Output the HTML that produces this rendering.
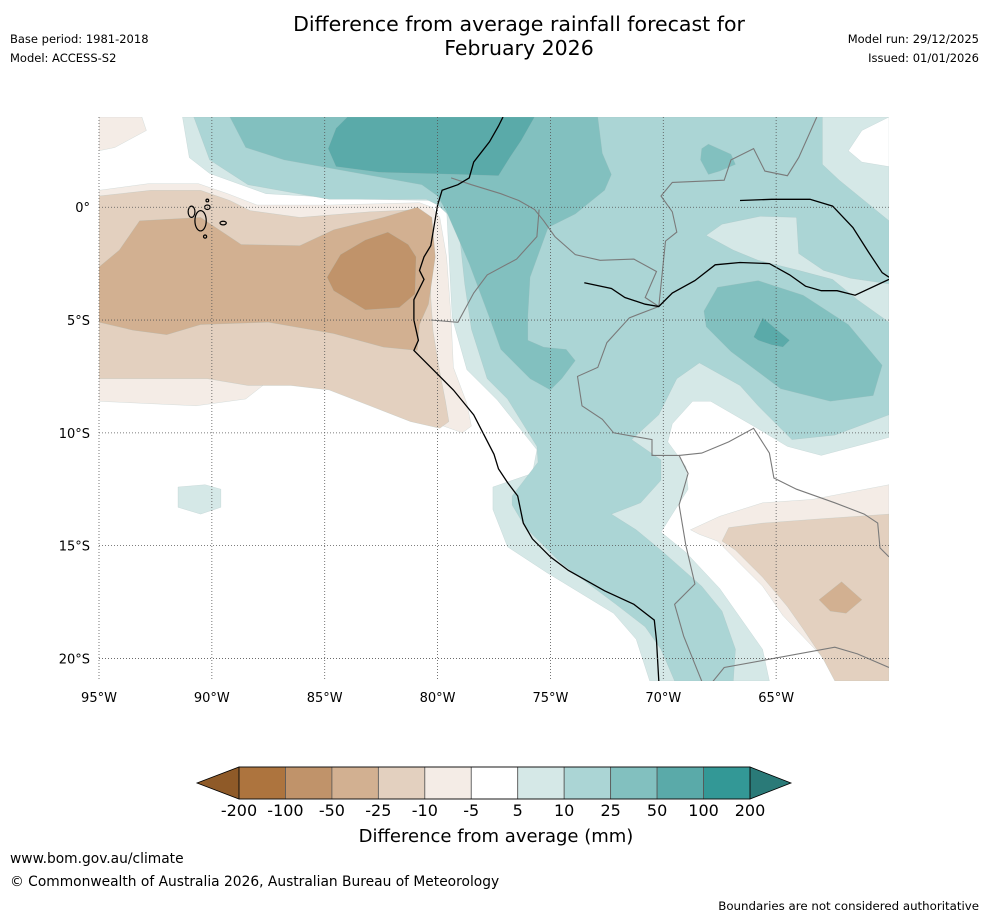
<!DOCTYPE html>
<html><head><meta charset="utf-8"><style>
body{margin:0;background:#fff;font-family:"DejaVu Sans","Liberation Sans",sans-serif;}
#wrap{position:relative;width:988px;height:919px;overflow:hidden;background:#fff}
.t{position:absolute;white-space:nowrap;color:#000}
</style></head><body>
<div id="wrap">
<div class="t" style="left:0;width:1038px;top:12px;text-align:center;font-size:20.5px;line-height:24px">Difference from average rainfall forecast for<br>February 2026</div>
<div class="t" style="left:10px;top:32px;font-size:11.5px">Base period: 1981-2018</div>
<div class="t" style="left:10px;top:51px;font-size:11.5px">Model: ACCESS-S2</div>
<div class="t" style="right:9px;top:32px;font-size:11.5px">Model run: 29/12/2025</div>
<div class="t" style="right:9px;top:51px;font-size:11.5px">Issued: 01/01/2026</div>
<svg id="map" width="988" height="919" style="position:absolute;left:0;top:0"></svg>
<div class="t" style="left:0;width:988px;text-align:center;top:826px;font-size:18px;padding-left:2px">Difference from average (mm)</div>
<div class="t" style="left:10px;top:851px;font-size:13.8px">www.bom.gov.au/climate</div>
<div class="t" style="left:10px;top:874px;font-size:13.8px">© Commonwealth of Australia 2026, Australian Bureau of Meteorology</div>
<div class="t" style="right:9px;top:899px;font-size:11.8px">Boundaries are not considered authoritative</div>
</div>
<script>
// colorbar data
const levels=[-200,-100,-50,-25,-10,-5,5,10,25,50,100,200];
const levelColors=["#ad743e","#c0936a","#d2b091","#e3d0bf","#f4ece6","#ffffff","#d5e8e7","#abd5d5","#82c0bf","#5aaaa9","#339896"];
const lonTicks=[-95,-90,-85,-80,-75,-70,-65];
const latTicks=[0,-5,-10,-15,-20];
// contour regions, [lon,lat] pairs
const t1Region=[[-91.3,4],[-91,2.2],[-90.1,1.5],[-87.6,0.6],[-83.2,0.35],[-80.25,0.3],[-79.6,-0.1],[-79.35,-4.9],[-78.7,-7.2],[-77.35,-8.55],[-75.6,-10.75],[-75.8,-11.8],[-77.55,-12.4],[-77.55,-13.4],[-76.9,-15.05],[-75.15,-16.2],[-72.2,-18],[-71.2,-19.15],[-70.6,-21],[-65.3,-21],[-65.6,-19.6],[-67.5,-16.9],[-69,-15.3],[-70.1,-14.4],[-68.9,-12.5],[-69,-11.5],[-69.8,-10.4],[-69.6,-9.6],[-68.7,-8.6],[-67.9,-8.6],[-66,-9.7],[-64.5,-10.6],[-63,-11],[-60,-10.2],[-60,4]];
const t1Islet=[[-91.5,-12.4],[-90.3,-12.3],[-89.6,-12.5],[-89.6,-13.3],[-90.5,-13.6],[-91.5,-13.3]];
const whiteTopRight=[[-60,4],[-61.2,3.4],[-61.8,2.5],[-61.2,2],[-60,1.8]];
const t2Region=[[-90.8,4],[-90.1,2.1],[-88.4,1],[-84.8,0.35],[-80.5,0.35],[-80,0.1],[-79.4,-0.45],[-79,-1.5],[-78.8,-3.4],[-78.5,-5.4],[-77.8,-7.6],[-76.9,-8.5],[-75.6,-10.6],[-75.55,-11.3],[-76.7,-12.8],[-76.7,-13.2],[-76.1,-14.2],[-74.5,-15.8],[-72.1,-17.6],[-70.8,-18.6],[-70.1,-19.6],[-69.5,-21],[-66.9,-21],[-66.8,-19.6],[-67.4,-17.9],[-68.3,-16.8],[-70.1,-15.2],[-71.2,-14.3],[-72.3,-13.6],[-71,-13.1],[-70.1,-12.1],[-70.1,-11.2],[-71.4,-10.3],[-70.2,-9.2],[-69.4,-7.6],[-68.4,-6.9],[-66.6,-7.9],[-65.8,-8.8],[-64.3,-10.3],[-62.4,-10.1],[-60,-9.2],[-60,-0.6],[-62.2,1.2],[-62.95,1.9],[-62.95,4]];
const lightPocket=[[-68.1,-1.25],[-67.4,-0.75],[-65.7,-0.4],[-64.1,-0.45],[-64,-2.05],[-62.9,-2.8],[-61.7,-3.15],[-60,-3.4],[-60,-5.1],[-61.4,-4.1],[-62.5,-3.2],[-64,-2.8],[-65.8,-2.35],[-66.9,-1.9]];
const t3North=[[-89.2,4],[-88.5,2.65],[-86.8,2.1],[-83.2,1.45],[-80.7,1],[-80,0.5],[-79.6,-0.2],[-78.6,-2.5],[-77.7,-4.9],[-77.2,-6.3],[-75.9,-7.6],[-75,-8.1],[-74.5,-7.6],[-73.9,-6.8],[-74.3,-6.3],[-75.3,-6.2],[-76,-5.9],[-76,-4.8],[-75.9,-3.1],[-75.1,-0.9],[-73.9,-0.3],[-72.6,0.75],[-72.3,1.45],[-72.7,2.4],[-72.9,4]];
const t3Lens=[[-68.2,-4.6],[-67.6,-3.55],[-65.8,-3.25],[-63.8,-3.9],[-61.8,-5.2],[-60.3,-7],[-60.7,-8.35],[-62.6,-8.6],[-64.8,-8.05],[-67,-6.4],[-68.1,-5.3]];
const t3Patch=[[-68.3,2.6],[-68,2.8],[-67,2.35],[-66.8,1.9],[-67.5,1.6],[-68,1.45],[-68.35,2.1]];
const t4North=[[-84,4],[-84.5,3.5],[-84.85,2.6],[-84.5,1.8],[-82.6,1.55],[-79,1.45],[-77.3,1.4],[-76.8,2.2],[-76.3,2.95],[-75.7,4]];
const t4Lens=[[-66,-5.75],[-65.6,-4.9],[-64.4,-5.9],[-64.7,-6.2],[-65.2,-6.1],[-65.8,-5.9]];
const b1Top=[[-95,4],[-93.1,4],[-92.9,3.4],[-94.3,2.65],[-95,2.5]];
const b1West=[[-95,0.75],[-92.8,1.05],[-90.6,1.05],[-89.3,0.6],[-88,0.1],[-84.8,0.1],[-80.8,0.2],[-80.25,0],[-79.9,-0.45],[-79.6,-2.2],[-79.4,-4.9],[-79.3,-7.1],[-78.7,-8.7],[-78.5,-9.7],[-78.9,-10],[-80.3,-9.5],[-81.5,-8.1],[-84.5,-7.6],[-87.1,-7.4],[-88.5,-8.5],[-90.7,-8.8],[-95,-8.6]];
const b2West=[[-95,0.5],[-92.7,0.75],[-90.5,0.75],[-89.2,0.3],[-88.3,-0.15],[-86.1,-0.45],[-83,-0.2],[-80.8,-0.1],[-80.45,-0.35],[-80.3,-1.9],[-80.3,-4],[-80.2,-5.5],[-79.9,-7.3],[-79.65,-8.6],[-79.5,-9.5],[-79.9,-9.8],[-81.2,-9.5],[-83,-8.8],[-84.8,-8.1],[-86.5,-7.9],[-88.4,-7.9],[-90.2,-7.6],[-91.8,-7.6],[-95,-7.6]];
const b3West=[[-95,-2.65],[-94.1,-1.9],[-93.2,-0.6],[-90.5,-0.45],[-88.7,-1.65],[-86.1,-1.7],[-84.6,-1],[-82.4,-0.45],[-80.9,0],[-80.25,-0.45],[-80.1,-2.2],[-80.4,-4.3],[-80.8,-5.2],[-80.9,-6.35],[-82.4,-6.2],[-84.6,-5.6],[-87.5,-5.1],[-90.5,-5.2],[-92,-5.65],[-93.5,-5.45],[-95,-5.1]];
const b4West=[[-84.9,-3.1],[-84.3,-2.1],[-83.2,-1.45],[-82.2,-1.1],[-81.3,-1.65],[-80.95,-2.2],[-81,-3.85],[-81.7,-4.45],[-83.2,-4.55],[-84.6,-3.7]];
const b1East=[[-68.8,-14.3],[-67.5,-13.7],[-65.6,-13.1],[-63.4,-12.95],[-60,-12.3],[-60,-21],[-62,-21],[-62.6,-20.3],[-64.7,-18.1],[-65.6,-16.8],[-66.6,-15.8],[-67.6,-14.8],[-68.4,-14.5]];
const b2East=[[-67.4,-14.8],[-67.1,-14.2],[-65.6,-14],[-62.9,-13.8],[-60,-13.6],[-60,-21],[-62.4,-21],[-62.9,-20.05],[-63.8,-18.7],[-64.5,-17.7],[-65.6,-16.4],[-66.8,-15.2]];
const b3East=[[-63.1,-17.4],[-62.1,-16.6],[-61.2,-17.4],[-61.9,-18],[-62.6,-17.9]];
// coastline and borders
const coastline=[[-77.1,4],[-77.3,3.6],[-77.7,2.9],[-78.4,2],[-78.6,1.3],[-79.1,1],[-79.8,0.75],[-80,0.1],[-80.15,-0.8],[-80.3,-1.7],[-80.6,-2.2],[-80.8,-2.8],[-80.6,-3.2],[-81.05,-4.1],[-81.05,-5],[-80.85,-5.9],[-81.05,-6.35],[-80.6,-6.8],[-79.3,-8.1],[-78.4,-9.2],[-77.5,-10.95],[-77.3,-11.6],[-76.9,-12.2],[-76.45,-12.8],[-76.2,-14],[-75.8,-14.7],[-75,-15.5],[-74.2,-16.1],[-72.6,-17],[-71.3,-17.6],[-70.4,-18.3],[-70.3,-19.2],[-70.2,-21]];
const riverA=[[-73.5,-3.35],[-72.3,-3.6],[-71.7,-4],[-70.8,-4.3],[-70.2,-4.4],[-69.6,-3.8],[-68.6,-3.25],[-67.7,-2.55],[-66.6,-2.45],[-65.3,-2.5],[-64.4,-3],[-63.7,-3.5],[-63,-3.7],[-62.3,-3.7],[-61.5,-3.9],[-60,-3.2]];
const riverB=[[-66.6,0.3],[-65.2,0.35],[-63.5,0.35],[-62.5,0.05],[-61.6,-0.9],[-60.9,-2],[-60.3,-2.9],[-60,-3.1]];
const borders=[
 [[-79.4,1.3],[-78.5,1],[-77.2,0.6],[-76.4,0.3],[-75.7,-0.1],[-75.3,-0.6],[-74.8,-1.3],[-73.9,-2.1],[-72.8,-2.35],[-71.3,-2.3],[-70.3,-2.85],[-70.8,-4],[-70.2,-4.4]],
 [[-75.5,-0.1],[-75.6,-1.3],[-76.5,-2.3],[-77.8,-3],[-78.4,-3.8],[-79.1,-5.1],[-80.3,-5]],
 [[-70.2,-4.4],[-71.5,-4.9],[-72.5,-6],[-72.9,-7.1],[-73.8,-7.5],[-73.6,-8.8],[-72.7,-9.4],[-72.2,-10],[-70.5,-10.3],[-70.5,-11],[-69.3,-11],[-68.9,-11.8],[-69.3,-13.2],[-69,-15],[-68.6,-16.7],[-69.5,-17.6],[-69.1,-19],[-68.5,-20.5],[-68.3,-21]],
 [[-70.2,-4.4],[-69.9,-1.5],[-69.4,-1.1],[-69.6,-0.2],[-70.1,0.5],[-69.6,1.1],[-67.3,1.2],[-67,2.1],[-66,2.6],[-65.5,1.6],[-64.5,1.4],[-64,2.2],[-63.2,4]],
 [[-69.3,-11],[-68.3,-10.9],[-67.1,-10.4],[-66,-9.8],[-65.3,-10.9],[-65.1,-12],[-64.1,-12.5],[-62.4,-13.1],[-61.1,-13.6],[-60.5,-14],[-60.4,-15.1],[-60,-15.5]],
 [[-68.6,-22],[-67.3,-20.4],[-62.4,-19.5],[-61.4,-19.8],[-60,-20.4]]
];
const S="http://www.w3.org/2000/svg";
const svg=document.getElementById('map');
const X0=99,X1=889,Y0=117,Y1=681;
const lonMin=-95,lonMax=-60,latMax=4,latMin=-21;
function px(lon){return X0+(lon-lonMin)*(X1-X0)/(lonMax-lonMin);}
function py(lat){return Y0+(latMax-lat)*(Y1-Y0)/(latMax-latMin);}
function mk(tag,attrs){const e=document.createElementNS(S,tag);for(const k in attrs)e.setAttribute(k,attrs[k]);return e;}
function pts(a){return a.map(p=>px(p[0]).toFixed(1)+','+py(p[1]).toFixed(1)).join(' ');}
const clip=mk('clipPath',{id:'mc'});clip.appendChild(mk('rect',{x:X0,y:Y0,width:X1-X0,height:Y1-Y0}));svg.appendChild(clip);
const g=mk('g',{'clip-path':'url(#mc)'});svg.appendChild(g);
function region(a,color,name){const p=mk('polygon',{points:pts(a),fill:color,stroke:'#9fb8b8','stroke-width':0.4,'stroke-opacity':0.5});


g.appendChild(p);}
region(t1Region,levelColors[6],'contour-5-10mm');
region(t1Islet,levelColors[6],'contour-5-10mm-islet');
region(whiteTopRight,'#ffffff','contour-near-zero-northeast');
region(t2Region,levelColors[7],'contour-10-25mm');
region(lightPocket,levelColors[6],'contour-5-10mm-pocket');
region(t3North,levelColors[8],'contour-25-50mm-north');
region(t3Lens,levelColors[8],'contour-25-50mm-amazon');
region(t3Patch,levelColors[8],'contour-25-50mm-patch');
region(t4North,levelColors[9],'contour-50-100mm-north');
region(t4Lens,levelColors[9],'contour-50-100mm-amazon');
region(b1Top,levelColors[4],'contour-minus5-minus10mm-northwest');
region(b1West,levelColors[4],'contour-minus5-minus10mm-west');
region(b2West,levelColors[3],'contour-minus10-minus25mm-west');
region(b3West,levelColors[2],'contour-minus25-minus50mm-west');
region(b4West,levelColors[1],'contour-minus50-minus100mm-west');
region(b1East,levelColors[4],'contour-minus5-minus10mm-east');
region(b2East,levelColors[3],'contour-minus10-minus25mm-east');
region(b3East,levelColors[2],'contour-minus25-minus50mm-east');
borders.forEach((b,i)=>{const l=mk('polyline',{points:pts(b),fill:'none',stroke:'#7a7a7a','stroke-width':1.1});


g.appendChild(l);});
[[coastline,'coastline'],[riverA,'amazon-river'],[riverB,'rio-negro']].forEach(([a,n])=>{const l=mk('polyline',{points:pts(a),fill:'none',stroke:'#000','stroke-width':1.3});


g.appendChild(l);});
// Galapagos
[[-90.5,-0.6,0.25,0.45],[-90.9,-0.2,0.15,0.25],[-90.2,0,0.12,0.1],[-89.5,-0.7,0.14,0.08],[-90.3,-1.3,0.07,0.07],[-90.2,0.3,0.06,0.06]].forEach((c,i)=>{const e=mk('ellipse',{cx:px(c[0]),cy:py(c[1]),rx:c[2]*22.6,ry:c[3]*22.6,fill:'none',stroke:'#000','stroke-width':1.2});


g.appendChild(e);});
// graticule
lonTicks.forEach(lon=>{const l=mk('line',{x1:px(lon),x2:px(lon),y1:Y0,y2:Y1,stroke:'#555','stroke-width':0.8,'stroke-dasharray':'1,2'});


svg.appendChild(l);
const t=mk('text',{x:px(lon),y:702,'text-anchor':'middle','font-size':13,'font-family':'DejaVu Sans, Liberation Sans, sans-serif'});
t.textContent=Math.abs(lon)+'°W';


svg.appendChild(t);});
latTicks.forEach(lat=>{const l=mk('line',{x1:X0,x2:X1,y1:py(lat),y2:py(lat),stroke:'#555','stroke-width':0.8,'stroke-dasharray':'1,2'});


svg.appendChild(l);
const t=mk('text',{x:90,y:py(lat)+5,'text-anchor':'end','font-size':13,'font-family':'DejaVu Sans, Liberation Sans, sans-serif'});
t.textContent=lat===0?'0°':Math.abs(lat)+'°S';


svg.appendChild(t);});
// colorbar
const CB0=239,CB1=750,CBY=767,CBH=32;
const bw=(CB1-CB0)/levelColors.length;
const la=mk('polygon',{points:`${CB0},${CBY} ${CB0},${CBY+CBH} 197,${CBY+CBH/2}`,fill:'#8f5a28',stroke:'#000','stroke-width':0.8});


svg.appendChild(la);
const ra=mk('polygon',{points:`${CB1},${CBY} ${CB1},${CBY+CBH} 791,${CBY+CBH/2}`,fill:'#2a7a78',stroke:'#000','stroke-width':0.8});


svg.appendChild(ra);
levelColors.forEach((c,i)=>{const r=mk('rect',{x:CB0+i*bw,y:CBY,width:bw,height:CBH,fill:c,stroke:'#555','stroke-width':0.8});


svg.appendChild(r);});
const fr=mk('rect',{x:CB0,y:CBY,width:CB1-CB0,height:CBH,fill:'none',stroke:'#000','stroke-width':0.8});


svg.appendChild(fr);
levels.forEach((v,i)=>{const t=mk('text',{x:CB0+i*bw,y:816,'text-anchor':'middle','font-size':16,'font-family':'DejaVu Sans, Liberation Sans, sans-serif'});
t.textContent=v;


svg.appendChild(t);});
</script>
</body></html>
